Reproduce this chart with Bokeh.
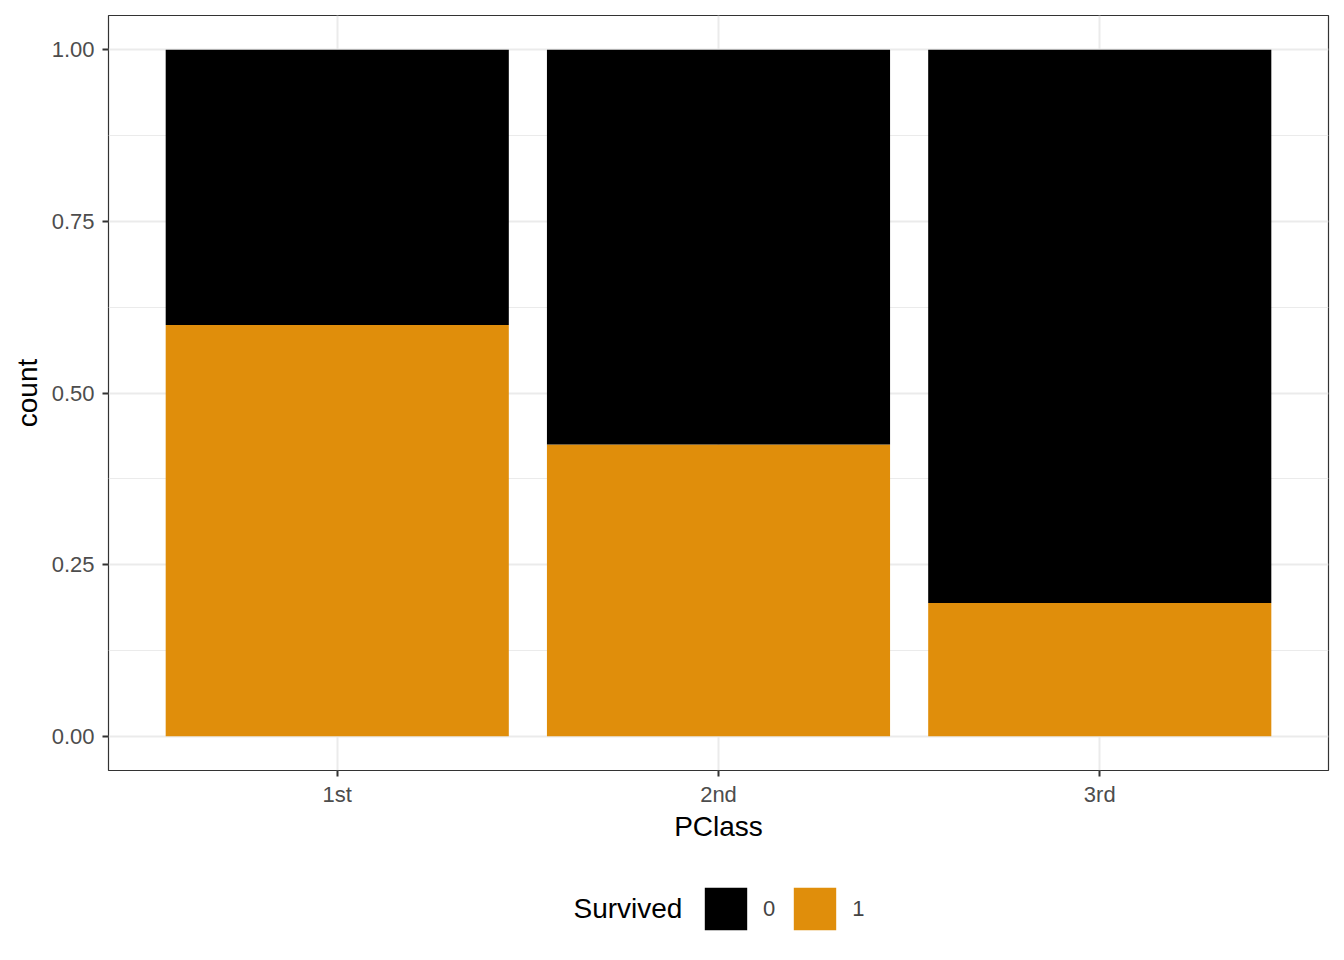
from bokeh.plotting import figure
from bokeh.models import Range1d, FixedTicker, Legend, LegendItem, ColumnDataSource, Label
from bokeh.layouts import column
from bokeh.embed import file_html
from bokeh.resources import INLINE

# ---- data ----
pclass = ["1st", "2nd", "3rd"]
survived_1 = [0.599, 0.425, 0.194]   # share survived
survived_0 = [0.401, 0.575, 0.806]   # share died
survived_levels = ["0", "1"]
legend_title = "Survived"
y_ticks = [0.0, 0.25, 0.5, 0.75, 1.0]
y_tick_labels = ["0.00", "0.25", "0.50", "0.75", "1.00"]
y_minor = [0.125, 0.375, 0.625, 0.875]
colors = {"0": "#000000", "1": "#E08E0B"}

FONT = "Liberation Sans"

xpos = [i + 1 for i in range(len(pclass))]
src = ColumnDataSource(dict(x=xpos, s1=survived_1, s0=survived_0, cls=pclass))

# ---- main plot ----
p = figure(frame_width=1220, frame_height=755, output_backend="svg", toolbar_location=None,
           x_range=Range1d(0.4, len(pclass) + 0.6), y_range=Range1d(-0.05, 1.05),
           min_border_left=108, min_border_top=15, min_border_right=8, min_border_bottom=90)

rs = p.vbar_stack(["s1", "s0"], x="x", width=0.9, source=src,
                  color=[colors["1"], colors["0"]], line_color=None)

p.xaxis.ticker = FixedTicker(ticks=xpos)
p.xaxis.major_label_overrides = {x: c for x, c in zip(xpos, pclass)}
p.yaxis.ticker = FixedTicker(ticks=y_ticks, minor_ticks=y_minor)
p.yaxis.major_label_overrides = {t: l for t, l in zip(y_ticks, y_tick_labels)}
p.xaxis.axis_label = "PClass"
p.yaxis.axis_label = "count"
for ax in (p.xaxis, p.yaxis):
    ax.axis_line_color = None
    ax.major_tick_line_color = "#333333"
    ax.major_tick_line_width = 2
    ax.major_tick_out = 6
    ax.major_tick_in = 0
    ax.minor_tick_line_color = None
    ax.major_label_text_font = FONT
    ax.major_label_text_font_size = "22px"
    ax.major_label_text_color = "#4D4D4D"
    ax.axis_label_text_font = FONT
    ax.axis_label_text_font_size = "28px"
    ax.axis_label_text_font_style = "normal"
    ax.axis_label_text_color = "#000000"
p.yaxis.major_label_standoff = 8
p.xaxis.major_label_standoff = 5
p.yaxis.axis_label_standoff = 6
p.xaxis.axis_label_standoff = 1

p.xgrid.ticker = FixedTicker(ticks=xpos)
p.ygrid.ticker = FixedTicker(ticks=y_ticks, minor_ticks=y_minor)
p.grid.grid_line_color = "#EBEBEB"
p.grid.grid_line_width = 2
p.ygrid.minor_grid_line_color = "#EBEBEB"
p.ygrid.minor_grid_line_width = 1

p.outline_line_color = "#333333"
p.outline_line_width = 1.2
p.background_fill_color = "white"
p.border_fill_color = "white"

# ---- legend strip below the plot ----
lg = figure(frame_width=1336, frame_height=100, output_backend="svg", toolbar_location=None,
            x_range=Range1d(-10, -9), y_range=Range1d(-10, -9), min_border=0)
lg.axis.visible = False
lg.grid.visible = False
lg.outline_line_color = None
lg.background_fill_color = "white"
lg.border_fill_color = "white"
lrs = lg.vbar_stack(["s1", "s0"], x="x", width=0.9, source=src,
                    color=[colors["1"], colors["0"]], line_color=None)

items = [LegendItem(label=survived_levels[0], renderers=[lrs[1]]),
         LegendItem(label=survived_levels[1], renderers=[lrs[0]])]
legend = Legend(items=items, orientation="horizontal", location=(699, 25),
                glyph_width=53, glyph_height=53,
                label_text_font=FONT, label_text_font_size="22px",
                label_standoff=11, label_width=12, spacing=13, padding=0, margin=0,
                border_line_color=None, background_fill_alpha=0)
lg.add_layout(legend, "center")

title = Label(x=465, y=52, x_units="screen", y_units="screen", text=legend_title,
              text_font=FONT, text_font_size="28px", text_align="left",
              text_baseline="middle", text_color="#000000")
lg.add_layout(title, "center")

open("out.html", "w").write(file_html(column(p, lg, spacing=0), INLINE))
